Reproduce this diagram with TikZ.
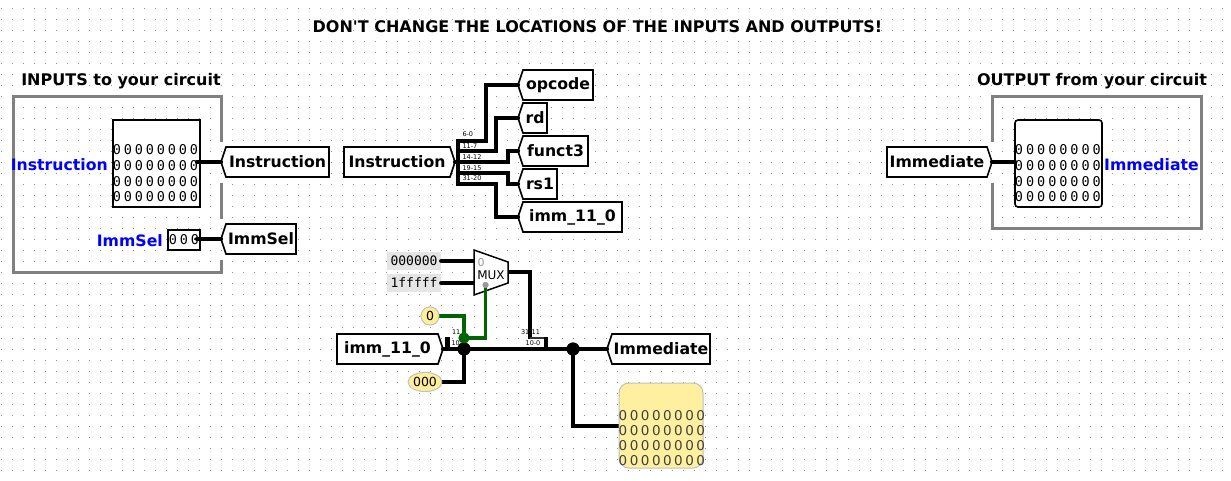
\documentclass[tikz,border=0pt]{standalone}
\usetikzlibrary{shapes.geometric}
\usepackage{fontspec}
\setmainfont{DejaVu Sans}
\newfontfamily\monof{DejaVu Sans Mono}
\newfontfamily\plainf{DejaVu Sans}
\definecolor{wgreen}{HTML}{006400}
\definecolor{probey}{HTML}{FFF0A0}
\definecolor{consty}{HTML}{FFEE99}
\definecolor{framegray}{HTML}{808080}
\definecolor{dotgray}{HTML}{909090}
\tikzset{
  x=1pt,y=-1pt,
  wire/.style={line width=4.2pt,black,line cap=round,line join=miter},
  gwire/.style={line width=3.6pt,wgreen,line cap=round,line join=miter},
  framew/.style={line width=3pt,framegray,line cap=butt,line join=miter},
  tun/.style={draw=black,line width=1.6pt,fill=white,line join=miter},
  tunt/.style={font=\fontsize{15.7}{15.7}\selectfont\bfseries,inner sep=0pt,anchor=center},
  lab/.style={font=\fontsize{16}{16}\selectfont\bfseries,inner sep=0pt},
  blu/.style={font=\fontsize{15.7}{15.7}\selectfont\bfseries,inner sep=0pt,text=blue},
  bit/.style={font=\monof\fontsize{13.5}{13.5}\selectfont,inner sep=0pt},
  pbit/.style={font=\fontsize{13.5}{13.5}\selectfont,inner sep=0pt,text=black!75},
  small/.style={font=\fontsize{6.5}{6.5}\selectfont,inner sep=0.3pt},
  dotn/.style={circle,fill=black,inner sep=0pt},
  cst/.style={font=\monof\fontsize{13}{13}\selectfont,fill=black!10,inner sep=0pt,minimum height=17.5pt,minimum width=54pt},
  yc/.style={draw=black!25,fill=consty,line width=0.8pt,inner sep=0pt},
}
\newcommand{\tunL}[6]{% name, tip x, right x, top y, bottom y, text
  \draw[tun] (#2,{(#4+#5)/2}) -- (#2+5,#4) -- (#3,#4) -- (#3,#5) -- (#2+5,#5) -- cycle;
  \node[tunt] (#1) at ({(#2+5+#3)/2},{(#4+#5)/2}) {#6};
  \coordinate (#1p) at (#2,{(#4+#5)/2});
}
\newcommand{\tunR}[6]{% name, left x, tip x, top y, bottom y, text
  \draw[tun] (#3,{(#4+#5)/2}) -- (#3-5,#4) -- (#2,#4) -- (#2,#5) -- (#3-5,#5) -- cycle;
  \node[tunt] (#1) at ({(#3-5+#2)/2},{(#4+#5)/2}) {#6};
  \coordinate (#1p) at (#3,{(#4+#5)/2});
}
\newcommand{\bitgrid}[3]{% x0, pitch, style
  \foreach \r in {150,166,182,197}{
    \foreach \c in {0,...,7}{
      \node[#3] at ({#1+\c*#2},\r) {0};
    }
  }
}
\begin{document}
\begin{tikzpicture}
\useasboundingbox (0,0) rectangle (1231,481);
\fill[white] (0,0) rectangle (1231,481);
% grid
\foreach \i in {0,...,111}{
  \foreach \j in {0,...,43}{
    \fill[dotgray] ({1+\i*11},{8+\j*11}) rectangle +(1,1);
  }
}
% labels
\node[lab,font=\plainf\fontsize{16}{16}\selectfont\bfseries] (title) at (597.5,27) {DON'T CHANGE THE LOCATIONS OF THE INPUTS AND OUTPUTS!};
\node[lab] (inlab) at (121,81) {INPUTS to your circuit};
\node[lab] (outlab) at (1092,81) {OUTPUT from your circuit};
% frames
\draw[framew] (221,142) -- (221,97) -- (13,97) -- (13,272) -- (221,272) -- (221,260);
\draw[framew] (221,183) -- (221,219);
\draw[framew] (992,142) -- (992,97) -- (1201,97) -- (1201,228) -- (992,228) -- (992,183);
% input pins
\draw[line width=1.6pt,fill=white] (113,120) rectangle (200,207);
\bitgrid{117}{11}{bit}
\node[blu,anchor=east] (instr) at (108,165) {Instruction};
\draw[line width=1.6pt,fill=white] (168,230) rectangle (200,250);
\foreach \c in {0,1,2}{\node[bit] at ({173+\c*11},240) {0};}
\node[blu,anchor=east] (immsel) at (163,241) {ImmSel};
% input wires
\coordinate (pi) at (197,162);
\coordinate (ps) at (197,239);
\tunL{tinstr}{221}{329}{147}{177}{Instruction}
\tunL{timm}{221}{296}{224}{254}{ImmSel}
\draw[wire] (pi) -- (tinstrp);
\draw[wire] (ps) -- (timmp);
% output
\draw[line width=1.6pt,fill=white,rounded corners=3pt] (1015,120) rectangle (1102,207);
\bitgrid{1019}{11.1}{bit}
\node[blu,anchor=west] (immout) at (1104,165) {Immediate};
\tunR{tout}{887}{992}{147}{177}{Immediate}
\coordinate (po) at (1015,162);
\draw[wire] (toutp) -- (po);
% splitter 1
\tunR{tin2}{344}{455}{147}{177}{Instruction}
\tunL{topc}{518}{593}{70}{100}{opcode}
\tunL{trd}{518}{547}{103}{133}{rd}
\tunL{tf3}{518}{588}{136}{166}{funct3}
\tunL{trs}{518}{557}{169}{199}{rs1}
\tunL{timm2}{518}{622}{202}{232}{imm\_11\_0}
\coordinate (sa) at (458,141);
\coordinate (sb) at (458,151);
\coordinate (sc) at (458,162);
\coordinate (sd) at (458,173);
\coordinate (se) at (458,184);
\draw[wire,line cap=butt] (458,139) -- (458,186);
\draw[wire] (tin2p) -- (sc);
\draw[wire] (sa) -| (486,85) -- (topcp);
\draw[wire] (sb) -| (496,118) -- (trdp);
\draw[wire] (sc) -| (508,151) -- (tf3p);
\draw[wire] (sd) -| (508,184) -- (trsp);
\draw[wire] (se) -| (496,217) -- (timm2p);
\node[small,anchor=west] at (462,134.5) {6-0};
\node[small,anchor=west,fill=white] at (462,146) {11-7};
\node[small,anchor=west,fill=white] at (462,156.7) {14-12};
\node[small,anchor=west,fill=white] at (462,167.7) {19-15};
\node[small,anchor=west,fill=white] at (462,178.5) {31-20};
% lower: mux
\node[cst] (c0) at (414,261) {000000};
\node[cst] (c1) at (414,283) {1fffff};
\draw[wire] (c0.east) -- (474,261);
\draw[wire] (c1.east) -- (474,283);
\draw[line width=1.5pt,fill=white,line join=miter] (474,250) -- (508,262) -- (508,283) -- (474,295) -- cycle;
\node[font=\fontsize{11}{11}\selectfont,text=black!40,inner sep=0pt] (m0) at (481,262) {0};
\node[font=\fontsize{12}{12}\selectfont,inner sep=0pt] (mux) at (491,275) {MUX};
\node[circle,fill=black!40,inner sep=0pt,minimum size=6pt] (msel) at (485.5,285) {};
\coordinate (mout) at (508,272);
% splitter labels and wires
\node[small] at (530.5,332.5) {31-11};
\node[small,anchor=west] at (451.5,332.5) {11};
\node[small,anchor=west] at (451,343.5) {10-0};
\node[small] at (533,343.5) {10-0};
\tunL{tim}{607}{710}{334}{364}{Immediate}
\tunR{tsrc}{337}{443}{334}{364}{imm\_11\_0}
\node[circle,yc,minimum size=18pt] (k0) at (430,316) {\fontsize{12.5}{12.5}\selectfont 0};
\node[ellipse,yc,minimum width=30pt,minimum height=19pt] (k1) at (425,382) {\fontsize{12.5}{12.5}\selectfont 000};
\coordinate (sl) at (447,349);
\coordinate (slt) at (447,337);
\node[dotn,minimum size=13pt] (j1) at (464,349) {};
\node[dotn,fill=wgreen,minimum size=11pt] (j0) at (464,338) {};
\node[dotn,minimum size=13pt] (j2) at (573,349) {};
\coordinate (srt) at (546,338);
\coordinate (srb) at (546,349);
\draw[wire,line cap=butt] (mout) -| (530,339);
\draw[line width=1.5pt,black!80] (530,338) -- (srt);
\draw[wire,line cap=butt] (546,337) -- (srb) -- (552,349);
\draw[wire,line cap=butt,line width=5pt] (slt) -- (sl);
\draw[wire] (tsrcp) -- (j2) -- (timp);
\draw[wire] (k1) -- (k1 -| j1) -- (j1);
\draw[gwire] (k0) -- (k0 -| j0) -- (j0);
\draw[gwire] (j0) -- (msel |- j0) -- (msel);
% probe
\draw[wire] (j2) |- (619,426);
\draw[draw=black!25,fill=probey,line width=1pt,rounded corners=10pt] (619,383) rectangle (703,468);
\foreach \r in {416,431,446,461}{
  \foreach \c in {0,...,7}{
    \node[pbit] at ({623+\c*11.1},\r) {0};
  }
}
% nodes on top of their wires
\node[dotn,minimum size=13pt] at (j1) {};
\node[dotn,fill=wgreen,minimum size=11pt] at (j0) {};
\node[dotn,minimum size=13pt] at (j2) {};
\node[circle,yc,minimum size=18pt] at (k0) {\fontsize{12.5}{12.5}\selectfont 0};
\node[ellipse,yc,minimum width=30pt,minimum height=19pt] at (k1) {\fontsize{12.5}{12.5}\selectfont 000};
\node[circle,fill=black!40,inner sep=0pt,minimum size=6pt] at (msel) {};
\end{tikzpicture}
\end{document}
